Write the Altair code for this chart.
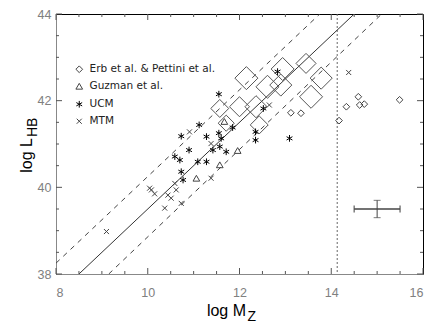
import altair as alt
import pandas as pd

# ---------------- data ----------------
series_names = ["Erb et al. & Pettini et al.", "Guzman et al.", "UCM", "MTM"]

# large Erb et al. diamonds (log Mz, log LHB, relative symbol weight)
erb_x = [11.57, 12.00, 12.36, 11.71, 12.43, 12.15, 12.61, 12.90, 12.94, 13.45, 13.78, 13.56]
erb_y = [41.82, 41.86, 41.86, 41.48, 41.44, 42.52, 42.32, 42.36, 42.73, 42.86, 42.52, 42.09]
erb_w = [0.78, 0.87, 0.96, 0.70, 0.78, 1.00, 1.00, 0.96, 1.00, 0.87, 0.96, 1.00]

# small Pettini et al. diamonds
pet_x = [13.12, 13.34, 14.17, 14.33, 14.59, 14.62, 14.72, 15.49]
pet_y = [41.72, 41.71, 41.54, 41.86, 42.09, 41.90, 41.92, 42.02]

# Guzman et al. triangles
guz_x = [11.67, 11.96, 11.57, 11.06]
guz_y = [41.52, 40.85, 40.52, 40.21]

# UCM asterisks
ucm_x = [11.55, 12.83, 12.52, 11.12, 10.73, 11.28, 11.55, 11.60, 11.85, 10.90, 11.42,
         11.57, 11.71, 10.59, 10.70, 11.09, 11.28, 10.73, 10.77, 12.35, 12.35, 13.09]
ucm_y = [42.15, 42.67, 41.82, 41.44, 41.18, 41.17, 41.25, 41.13, 41.38, 40.86, 40.86,
         40.94, 40.82, 40.71, 40.63, 40.59, 40.59, 40.36, 40.17, 41.28, 41.09, 41.13]

# MTM crosses
mtm_x = [9.10, 10.04, 10.15, 10.37, 10.44, 10.51, 10.62, 10.73, 10.59, 11.38, 10.91,
         11.38, 12.65, 14.38, 10.08]
mtm_y = [38.98, 39.98, 39.85, 39.52, 39.82, 39.75, 39.94, 39.63, 40.09, 40.21, 41.28,
         41.01, 41.90, 42.65, 39.94]

# relations drawn in the panel (end points)
solid_x = [8.50, 14.50]
solid_y = [38.00, 44.00]
upper_x = [8.00, 13.75]
upper_y = [38.25, 44.00]
lower_x = [9.15, 15.10]
lower_y = [38.00, 44.00]
limit_x = [14.13]

# typical error bar
err_x, err_y = [15.0], [39.5]
err_dx, err_dy = [0.5], [0.2]

# axis ticks
x_labels = [8, 10, 12, 14, 16]
y_labels = [38, 40, 42, 44]
x_minor = [v / 2 for v in range(16, 33) if v % 4 != 0]
y_minor = [v / 2 for v in range(76, 89) if v % 4 != 0]

# ---------------- build tables ----------------
pts = pd.DataFrame({
    "x": pet_x + guz_x + ucm_x + mtm_x,
    "y": pet_y + guz_y + ucm_y + mtm_y,
    "series": [series_names[0]] * len(pet_x) + [series_names[1]] * len(guz_x)
    + [series_names[2]] * len(ucm_x) + [series_names[3]] * len(mtm_x),
})
big = pd.DataFrame({"x": erb_x, "y": erb_y, "w": erb_w})

W, H = 367, 260
xs = alt.Scale(domain=[8, 16], nice=False, zero=False)
ys = alt.Scale(domain=[38, 44], nice=False, zero=False)
LABEL_FONT = "Liberation Sans"
x_axis = alt.Axis(values=x_labels, format="d", title=None, grid=False, ticks=False,
                  tickSize=0, domain=True, domainColor="#888", labelFont=LABEL_FONT,
                  labelFontSize=12.5, labelColor="#808080", labelPadding=12)
y_axis = alt.Axis(values=y_labels, format="d", title=None, grid=False, ticks=False,
                  tickSize=0, domain=True, domainColor="#888", labelFont=LABEL_FONT,
                  labelFontSize=12.5, labelColor="#808080", labelPadding=5)
X = lambda f="x": alt.X(f"{f}:Q", scale=xs, axis=x_axis)
Y = lambda f="y": alt.Y(f"{f}:Q", scale=ys, axis=y_axis)

STAR = "M0,-1L0,1M-0.87,-0.5L0.87,0.5M-0.87,0.5L0.87,-0.5"
CROSS = "M-0.75,-0.75L0.75,0.75M-0.75,0.75L0.75,-0.75"

points = alt.Chart(pts).mark_point(filled=False, strokeWidth=1, opacity=1).encode(
    x=X(), y=Y(),
    shape=alt.Shape("series:N", scale=alt.Scale(domain=series_names,
                    range=["diamond", "triangle-up", STAR, CROSS]),
                    legend=alt.Legend(title=None, orient="none", legendX=18, legendY=50,
                                      labelFont="DejaVu Sans", labelFontSize=10.5,
                                      labelColor="#222", symbolSize=45, symbolStrokeWidth=1,
                                      rowPadding=6, labelOffset=5, padding=0,
                                      labelLimit=300)),
    color=alt.Color("series:N", scale=alt.Scale(domain=series_names,
                    range=["#444", "#444", "#000", "#444"])),
    size=alt.Size("series:N", scale=alt.Scale(domain=series_names,
                  range=[45, 45, 90, 60]), legend=None),
)

big_pts = alt.Chart(big).mark_point(shape="diamond", filled=False, color="#555",
                                    strokeWidth=1, opacity=1).encode(
    x=X(), y=Y(),
    size=alt.Size("w:Q", scale=alt.Scale(type="pow", exponent=2, domain=[0, 1],
                                         range=[0, 530]), legend=None),
)

def seg(xv, yv, **kw):
    df = pd.DataFrame({"x": xv, "y": yv})
    return alt.Chart(df).mark_line(clip=True, **kw).encode(x=X(), y=Y())

solid = seg(solid_x, solid_y, color="#333", strokeWidth=1)
upper = seg(upper_x, upper_y, color="#444", strokeWidth=1, strokeDash=[5, 5])
lower = seg(lower_x, lower_y, color="#444", strokeWidth=1, strokeDash=[5, 5])

limit = alt.Chart(pd.DataFrame({"x": limit_x})).mark_rule(
    color="#666", strokeWidth=1, strokeDash=[2, 2]).encode(x=X())

err = pd.DataFrame({"x": err_x, "y": err_y, "dx": err_dx, "dy": err_dy})
err_h = alt.Chart(err).transform_calculate(x0="datum.x - datum.dx", x1="datum.x + datum.dx")
err_v = alt.Chart(err).transform_calculate(y0="datum.y - datum.dy", y1="datum.y + datum.dy")
eb = [
    err_h.mark_rule(color="#444", strokeWidth=1.5).encode(x=X("x0"), x2="x1:Q", y=Y()),
    err_h.mark_tick(color="#444", orient="vertical", size=7, thickness=1.5).encode(x=X("x0"), y=Y()),
    err_h.mark_tick(color="#444", orient="vertical", size=7, thickness=1.5).encode(x=X("x1"), y=Y()),
    err_v.mark_rule(color="#444", strokeWidth=1).encode(x=X(), y=Y("y0"), y2="y1:Q"),
    err_v.mark_tick(color="#444", orient="horizontal", size=7, thickness=1).encode(x=X(), y=Y("y0")),
    err_v.mark_tick(color="#444", orient="horizontal", size=7, thickness=1).encode(x=X(), y=Y("y1")),
]

# inward ticks on all four sides
def xticks(vals, length):
    c = alt.Chart(pd.DataFrame({"x": vals})).mark_rule(color="#555", strokeWidth=1)
    return [c.encode(x=X(), y=alt.value(H), y2=alt.value(H - length)),
            c.encode(x=X(), y=alt.value(0), y2=alt.value(length))]

def yticks(vals, length):
    c = alt.Chart(pd.DataFrame({"y": vals})).mark_rule(color="#555", strokeWidth=1)
    return [c.encode(y=Y(), x=alt.value(0), x2=alt.value(length)),
            c.encode(y=Y(), x=alt.value(W), x2=alt.value(W - length))]

ticks = xticks(x_labels, 6) + xticks(x_minor, 3) + yticks(y_labels, 6) + yticks(y_minor, 3)

# axis titles with subscripts
TF = "Liberation Sans"
tx = alt.Chart(pd.DataFrame({"a": [0]}))
titles = [
    tx.mark_text(text="log M", font=TF, fontSize=16, align="right", baseline="alphabetic",
                 color="#000").encode(x=alt.value(190), y=alt.value(302)),
    tx.mark_text(text="Z", font=TF, fontSize=14, align="left", baseline="alphabetic",
                 color="#000").encode(x=alt.value(191.5), y=alt.value(307)),
    tx.mark_text(text="log L", font=TF, fontSize=16, align="right", baseline="alphabetic",
                 angle=270, color="#000").encode(x=alt.value(-24), y=alt.value(124)),
    tx.mark_text(text="HB", font=TF, fontSize=14, align="left", baseline="alphabetic",
                 angle=270, color="#000").encode(x=alt.value(-19.5), y=alt.value(123)),
]

chart = alt.layer(
    limit, upper, lower, solid, big_pts, points, *eb, *ticks, *titles
).resolve_scale(size="independent").properties(
    width=W, height=H, autosize="none",
    padding={"left": 48, "top": 6, "right": 5, "bottom": 52},
    background="white",
).configure_view(stroke="#000", strokeWidth=1)

chart.save("out.html", embed_options={"renderer": "svg", "actions": False})
